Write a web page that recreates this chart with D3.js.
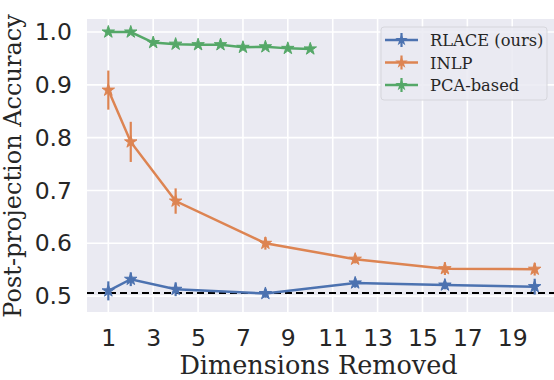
<!DOCTYPE html>
<html><head><meta charset="utf-8">
<script src="https://cdn.jsdelivr.net/npm/d3@7"></script>
<style>body{margin:0;background:#fff}svg{display:block}</style>
</head><body>
<svg id="c" width="554" height="380"></svg>
<script>
const xTicks = [1,3,5,7,9,11,13,15,17,19];
const yTicks = [0.5,0.6,0.7,0.8,0.9,1.0];
const rlaceX = [1,2,4,8,12,16,20];
const rlaceY = [0.510,0.532,0.513,0.505,0.525,0.521,0.518];
const rlaceErr = [0.018,0.013,0.013,0.008,0.009,0.008,0.015];
const inlpX = [1,2,4,8,12,16,20];
const inlpY = [0.890,0.792,0.680,0.600,0.570,0.552,0.551];
const inlpErr = [0.037,0.038,0.024,0.012,0.008,0.012,0.012];
const pcaX = [1,2,3,4,5,6,7,8,9,10];
const pcaY = [1.000,1.000,0.980,0.977,0.976,0.976,0.971,0.972,0.969,0.968];
const baseline = 0.506;
const seriesNames = ["RLACE (ours)","INLP","PCA-based"];
const colors = ["#4c72b0","#dd8452","#55a868"];

const svg = d3.select("#c");
const L=87, R=556, T=19, B=312;
const x = d3.scaleLinear().domain([0.05,20.95]).range([L,R]);
const y = d3.scaleLinear().domain([0.47,1.0246]).range([B,T]);

svg.append("defs").append("clipPath").attr("id","clip").append("rect")
  .attr("x",L).attr("y",T).attr("width",R-L).attr("height",B-T);

svg.append("rect").attr("x",L).attr("y",T).attr("width",R-L).attr("height",B-T).attr("fill","#eaeaf2");

const g = svg.append("g").attr("clip-path","url(#clip)");
g.selectAll(".gx").data(xTicks).enter().append("line")
  .attr("x1",d=>x(d)).attr("x2",d=>x(d)).attr("y1",T).attr("y2",B)
  .attr("stroke","#fff").attr("stroke-width",1.6);
g.selectAll(".gy").data(yTicks).enter().append("line")
  .attr("y1",d=>y(d)).attr("y2",d=>y(d)).attr("x1",L).attr("x2",R)
  .attr("stroke","#fff").attr("stroke-width",1.6);

const xAxis = svg.append("g").attr("transform",`translate(0,${B})`)
  .call(d3.axisBottom(x).tickValues(xTicks).tickSize(0).tickPadding(17).tickFormat(d3.format("d")));
const yAxis = svg.append("g").attr("transform",`translate(${L},0)`)
  .call(d3.axisLeft(y).tickValues(yTicks).tickSize(0).tickPadding(15).tickFormat(d3.format(".1f")));
[xAxis,yAxis].forEach(a=>{
  a.select(".domain").remove();
  a.selectAll("text").attr("font-family","DejaVu Sans").attr("font-size",23.5).attr("fill","#262626");
});

svg.append("text").attr("x",318.5).attr("y",374).attr("text-anchor","middle")
  .attr("font-family","DejaVu Serif").attr("font-size",25.5).attr("fill","#262626").text("Dimensions Removed");
svg.append("text").attr("transform",`translate(21,166) rotate(-90)`).attr("text-anchor","middle")
  .attr("font-family","DejaVu Serif").attr("font-size",24).attr("fill","#262626").text("Post-projection Accuracy");

g.append("line").attr("x1",L).attr("x2",R).attr("y1",y(baseline)).attr("y2",y(baseline))
  .attr("stroke","#000").attr("stroke-width",2).attr("stroke-dasharray","7,4");

const star = d3.symbol().type(d3.symbolStar).size(48);
const line = d3.line().x(d=>x(d[0])).y(d=>y(d[1]));

function drawSeries(xs, ys, errs, col){
  const pts = xs.map((v,i)=>[v,ys[i],errs?errs[i]:0]);
  if(errs){
    g.selectAll(null).data(pts).enter().append("line")
      .attr("x1",d=>x(d[0])).attr("x2",d=>x(d[0]))
      .attr("y1",d=>y(d[1]-d[2])).attr("y2",d=>y(d[1]+d[2]))
      .attr("stroke",col).attr("stroke-width",2.2);
  }
  g.append("path").datum(pts).attr("d",line).attr("fill","none").attr("stroke",col).attr("stroke-width",2.5);
  g.selectAll(null).data(pts).enter().append("path")
    .attr("d",star).attr("transform",d=>`translate(${x(d[0])},${y(d[1])})`).attr("fill",col)
    .attr("stroke",col).attr("stroke-width",1);
}
drawSeries(pcaX,pcaY,null,colors[2]);
drawSeries(inlpX,inlpY,inlpErr,colors[1]);
drawSeries(rlaceX,rlaceY,rlaceErr,colors[0]);

const lg = svg.append("g");
lg.append("rect").attr("x",381).attr("y",27).attr("width",166).attr("height",73).attr("rx",3)
  .attr("fill","#eaeaf2").attr("fill-opacity",0.85).attr("stroke","#d6d6dc").attr("stroke-width",1);
seriesNames.forEach((nm,i)=>{
  const yy = 40 + i*22.5;
  lg.append("line").attr("x1",385).attr("x2",418).attr("y1",yy).attr("y2",yy).attr("stroke",colors[i]).attr("stroke-width",2.5);
  lg.append("line").attr("x1",401.5).attr("x2",401.5).attr("y1",yy-7).attr("y2",yy+7).attr("stroke",colors[i]).attr("stroke-width",2.2);
  lg.append("path").attr("d",star).attr("transform",`translate(401.5,${yy})`).attr("fill",colors[i]);
  lg.append("text").attr("x",430).attr("y",yy+6).attr("font-family","DejaVu Serif").attr("font-size",16.3)
    .attr("fill","#262626").text(nm);
});
</script>
</body></html>
